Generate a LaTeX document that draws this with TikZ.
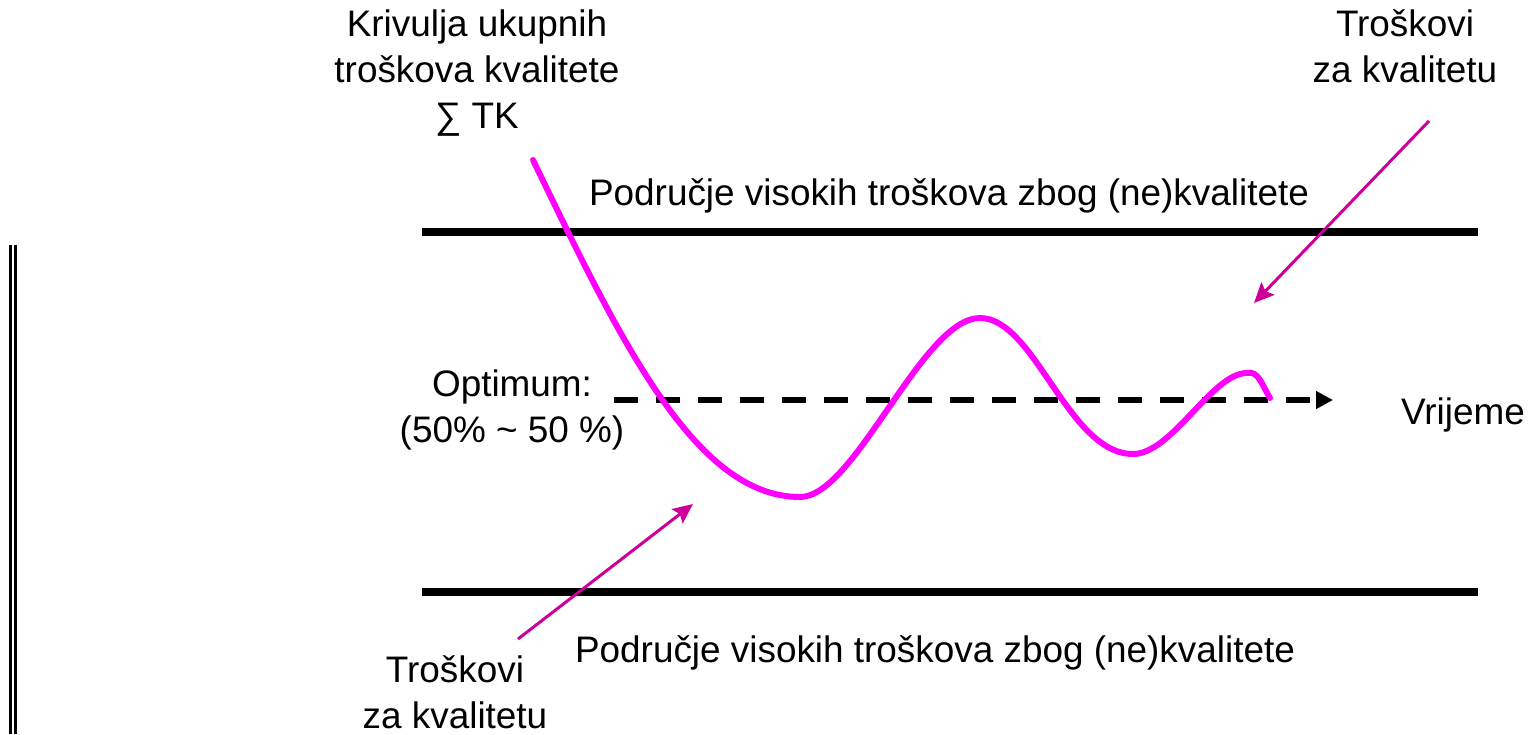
\documentclass[tikz,border=0pt]{standalone}
\usepackage{fontspec}
\setmainfont{Liberation Sans}
\usepackage{tikz}
\usetikzlibrary{positioning, calc, arrows.meta}
\definecolor{curvepink}{HTML}{FF00FF}
\definecolor{pointerpink}{HTML}{CC0099}

\begin{document}
\begin{tikzpicture}[x=0.02cm, y=-0.02cm, >=Stealth,
    lbl/.style={font=\fontsize{21}{26}\selectfont, align=center, inner sep=0pt, anchor=base},
    bound/.style={line width=4.4pt, black},
    totalcost/.style={line width=3.4pt, curvepink, line join=round, line cap=round},
    pointer/.style={line width=1.7pt, pointerpink, -{Stealth[length=0.4cm, width=0.36cm, inset=0.07cm]}},
    timeaxis/.style={line width=3.4pt, dash pattern=on 0.48cm off 0.36cm, -{Triangle[length=0.34cm, width=0.34cm]}}]
\useasboundingbox (0,0) rectangle (1530,734);

% base anchor sits on the last line
\node[lbl] (totallbl) at (477,128) {Krivulja ukupnih\\troškova kvalitete\\∑ TK};
\node[lbl] (costtop) at (1405,82) {Troškovi\\za kvalitetu};
\node[lbl] (upperzone) at (949,205) {Područje visokih troškova zbog (ne)kvalitete};
\node[lbl] (optimum) at (512,442) {Optimum:\\(50\% \textasciitilde{} 50 \%)};
\node[lbl] (vrijeme) at (1463,424) {Vrijeme};
\node[lbl] (lowerzone) at (935,662) {Područje visokih troškova zbog (ne)kvalitete};
\node[lbl] (costbottom) at (455,728) {Troškovi\\za kvalitetu};

\coordinate (axisstart) at (614,400);
\coordinate (axisend) at (1333,400);
\coordinate (toptail) at (1429,121);
\coordinate (toptip) at (1254,303);
\coordinate (bottomtail) at (518,639);
\coordinate (bottomtip) at (693,504);

% zone limits
\draw[bound] (422,232) -- (1478,232);
\draw[bound] (422,592) -- (1478,592);
\draw[double, line width=1.5pt, double distance=1.3pt] (12.9,245) -- (12.9,734);

\draw[timeaxis] (axisstart) -- (axisend);

% total cost curve
\draw[totalcost] (533,160) .. controls (620,340) and (695,497) .. (800,497)
    .. controls (855,497) and (922,318) .. (980,318)
    .. controls (1035,318) and (1068,454) .. (1133,454)
    .. controls (1172,454) and (1212,373) .. (1247,373)
    .. controls (1258,370) and (1262,385) .. (1270,398);

\draw[pointer] (toptail) -- (toptip);
\draw[pointer] (bottomtail) -- (bottomtip);

\end{tikzpicture}
\end{document}
